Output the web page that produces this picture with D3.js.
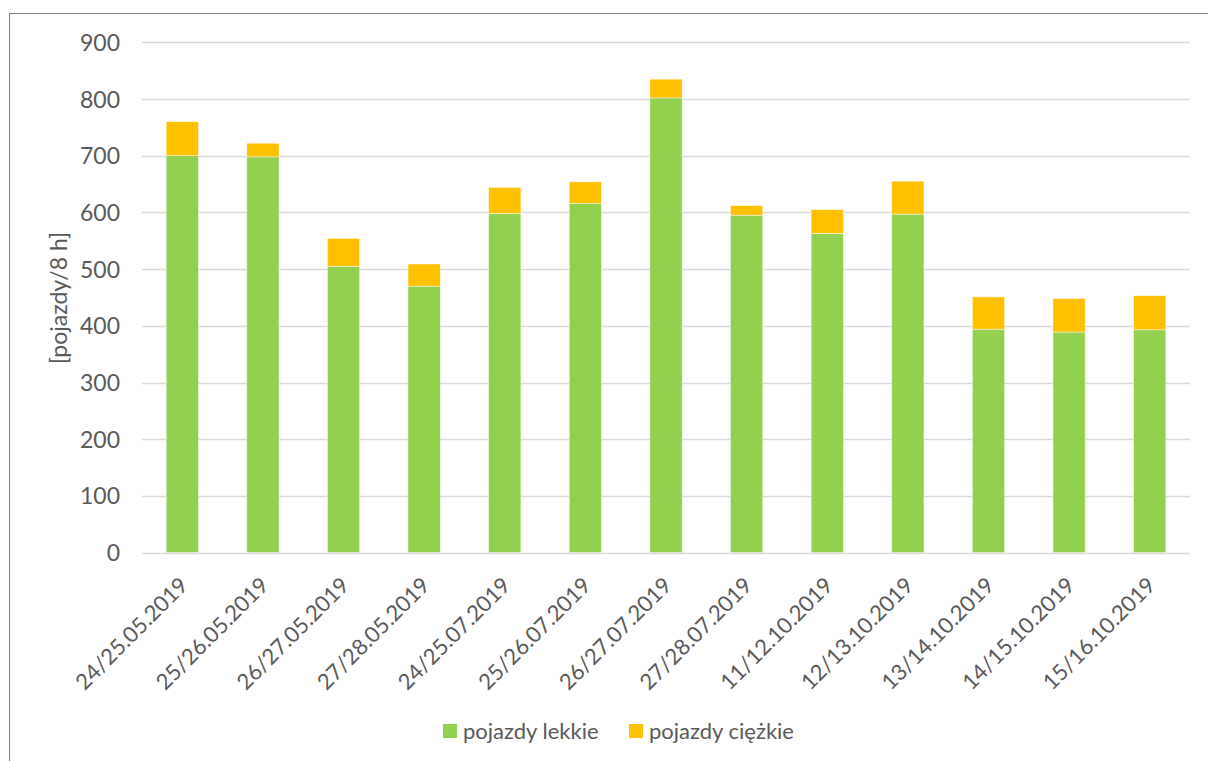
<!DOCTYPE html>
<html>
<head>
<meta charset="utf-8">
<script src="https://cdn.jsdelivr.net/npm/d3@7"></script>
<style>
  html, body { margin: 0; padding: 0; background: #fff; }
  svg { display: block; font-family: Lato, "Open Sans", sans-serif; }
</style>
</head>
<body>
<svg id="chart" width="1208" height="761"></svg>
<script>
// Daily (8-hour) traffic counts, split into light and heavy vehicles
const categories = [
  "24/25.05.2019", "25/26.05.2019", "26/27.05.2019", "27/28.05.2019",
  "24/25.07.2019", "25/26.07.2019", "26/27.07.2019", "27/28.07.2019",
  "11/12.10.2019", "12/13.10.2019", "13/14.10.2019", "14/15.10.2019",
  "15/16.10.2019"
];
const lightVehicles = [700, 698, 505, 470, 598, 616, 802, 595, 563, 597, 394, 389, 393];
const heavyVehicles = [60, 24, 49, 39, 46, 38, 33, 17, 42, 58, 57, 59, 60];
const seriesNames = ["pojazdy lekkie", "pojazdy ciężkie"];
const yTicks = [0, 100, 200, 300, 400, 500, 600, 700, 800, 900];
const yTitle = "[pojazdy/8 h]";

const colors = ["#92D050", "#FFC000"];
const textColor = "#595959";

const svg = d3.select("#chart");

// Outer chart frame (top and left edges fall inside the view)
svg.append("line").attr("x1", 9).attr("x2", 1208).attr("y1", 13.5).attr("y2", 13.5)
  .attr("stroke", "#808080").attr("stroke-width", 1);
svg.append("line").attr("x1", 9.5).attr("x2", 9.5).attr("y1", 13).attr("y2", 761)
  .attr("stroke", "#808080").attr("stroke-width", 1);

const plot = { left: 142, right: 1190, top: 42.3, bottom: 552.6 };

const x = d3.scaleBand().domain(categories).range([plot.left, plot.right]).paddingInner(0.6).paddingOuter(0.3);
const y = d3.scaleLinear().domain([0, 900]).range([plot.bottom, plot.top]);

// Gridlines
svg.append("g").selectAll("line").data(yTicks.filter(d => d > 0)).join("line")
  .attr("x1", plot.left).attr("x2", plot.right)
  .attr("y1", d => Math.round(y(d)) + 0.5).attr("y2", d => Math.round(y(d)) + 0.5)
  .attr("stroke", "#D9D9D9").attr("stroke-width", 1.3);

// Stacked bars
const rows = categories.map((c, i) => ({ cat: c, light: lightVehicles[i], heavy: heavyVehicles[i] }));
const stacked = d3.stack().keys(["light", "heavy"])(rows);

svg.append("g").selectAll("g").data(stacked).join("g")
  .attr("fill", (d, i) => colors[i])
  .selectAll("rect").data(d => d).join("rect")
  .attr("x", d => x(d.data.cat))
  .attr("width", x.bandwidth())
  .attr("y", d => y(d[1]))
  .attr("height", d => y(d[0]) - y(d[1]))
  .attr("stroke", "#ffffff").attr("stroke-opacity", 0.6).attr("stroke-width", 0.75);

// Category axis line
svg.append("line").attr("x1", plot.left).attr("x2", plot.right)
  .attr("y1", Math.round(y(0)) + 0.5).attr("y2", Math.round(y(0)) + 0.5)
  .attr("stroke", "#D9D9D9").attr("stroke-width", 1.3);

// Value axis labels
const yAxis = d3.axisLeft(y).tickValues(yTicks).tickSize(0).tickPadding(0);
const gy = svg.append("g").attr("transform", `translate(120,0)`).call(yAxis);
gy.select(".domain").remove();
gy.selectAll("text").attr("fill", textColor).attr("font-size", 23)
  .attr("font-family", "Lato, sans-serif").attr("dy", "0.35em");

// Category labels, rotated 45°
const xAxis = d3.axisBottom(x).tickSize(0).tickPadding(0);
const gx = svg.append("g").attr("transform", `translate(0,${plot.bottom})`).call(xAxis);
gx.select(".domain").remove();
gx.selectAll("text")
  .attr("fill", textColor).attr("font-size", 22).attr("font-family", "Lato, sans-serif")
  .attr("text-anchor", "end")
  .attr("dy", null).attr("y", 0)
  .attr("transform", "translate(7,34) rotate(-45)");

// Axis title
svg.append("text")
  .attr("transform", "translate(67,298) rotate(-90)")
  .attr("text-anchor", "middle")
  .attr("fill", textColor).attr("font-size", 23)
  .text(yTitle);

// Legend
const legend = svg.append("g");
const legendItems = [{ name: seriesNames[0], color: colors[0], x: 443 }, { name: seriesNames[1], color: colors[1], x: 629 }];
legendItems.forEach(item => {
  legend.append("rect").attr("x", item.x).attr("y", 724).attr("width", 14).attr("height", 14).attr("fill", item.color);
  legend.append("text").attr("x", item.x + 20).attr("y", 731).attr("dy", "0.35em")
    .attr("fill", textColor).attr("font-size", 22).text(item.name);
});
</script>
</body>
</html>
